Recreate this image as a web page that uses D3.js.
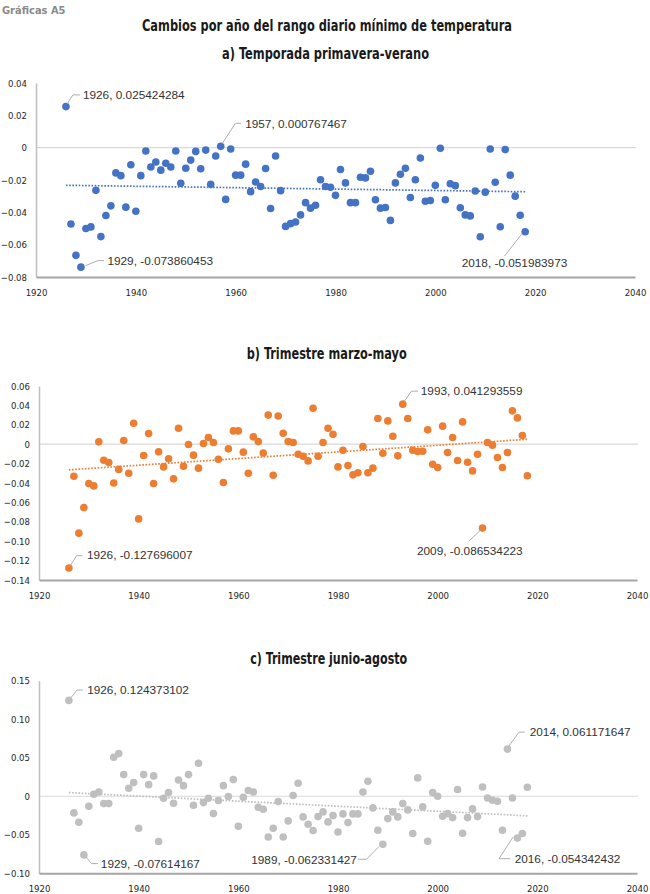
<!DOCTYPE html>
<html><head><meta charset="utf-8">
<script src="https://cdn.jsdelivr.net/npm/d3@7/dist/d3.min.js"></script>
<style>
html,body{margin:0;padding:0;background:#fff;}
svg{display:block;}
.tick text{font-family:"Liberation Sans Narrow","DejaVu Sans Condensed",sans-serif;font-size:9.5px;fill:#262626;}
.ann{font-family:"Liberation Sans","Open Sans",sans-serif;font-size:11.8px;fill:#333;}
.ttl{font-family:"Liberation Sans Narrow","DejaVu Sans Condensed",sans-serif;font-weight:bold;fill:#1a1a1a;}
</style></head>
<body>
<svg id="c" width="650" height="894"></svg>
<script>
// ---------- DATA ----------
const years = d3.range(1926, 2019);
const xTicks = [1920, 1940, 1960, 1980, 2000, 2020, 2040];

const valuesA = [0.0254,-0.0472,-0.0666,-0.0739,-0.050,-0.049,-0.0264,-0.055,-0.042,-0.036,
-0.0156,-0.0173,-0.0368,-0.0106,-0.0393,-0.0173,-0.0021,-0.012,-0.0089,-0.0139,
-0.0096,-0.012,-0.0021,-0.022,-0.0127,-0.0077,-0.0023,-0.013,-0.0015,-0.0227,
-0.0052,0.0008,-0.032,-0.0008,-0.017,-0.017,-0.0102,-0.0272,-0.0212,-0.024,
-0.0129,-0.0376,-0.0052,-0.0266,-0.0487,-0.047,-0.046,-0.0416,-0.034,-0.0374,
-0.0356,-0.0198,-0.024,-0.0245,-0.0295,-0.0135,-0.0218,-0.034,-0.034,-0.0183,
-0.0187,-0.0146,-0.0322,-0.0374,-0.037,-0.045,-0.0218,-0.0164,-0.0127,-0.0308,
-0.0198,-0.0064,-0.0331,-0.0327,-0.0233,-0.0004,-0.0322,-0.0223,-0.0235,-0.0372,
-0.0416,-0.0422,-0.0268,-0.0551,-0.0275,-0.0008,-0.0214,-0.0489,-0.0012,-0.017,
-0.030,-0.0418,-0.0520];

const valuesB = [-0.1277,-0.033,-0.0917,-0.0653,-0.0405,-0.043,0.0024,-0.0165,-0.0189,-0.040,
-0.026,0.0038,-0.030,0.0216,-0.077,-0.0117,0.011,-0.0405,-0.0079,-0.0234,
-0.0151,-0.0357,0.0165,-0.0227,-0.0003,-0.0113,-0.0247,0.0007,0.0069,0.0017,
-0.0155,-0.0395,-0.0048,0.0137,0.0137,-0.0082,-0.030,0.0076,0.0027,-0.009,
0.030,-0.032,0.029,0.0113,0.0027,0.0017,-0.0103,-0.0124,-0.0172,0.037,
-0.0124,0.0017,0.0165,0.0103,-0.0234,-0.0062,-0.022,-0.0316,-0.0295,-0.0024,
-0.0295,-0.0247,0.0265,-0.0093,0.024,0.0082,-0.012,0.0413,0.0265,-0.0062,
-0.0076,-0.0072,0.0148,-0.0206,-0.024,0.0186,-0.0086,0.0069,-0.0168,0.023,
-0.0186,-0.0275,-0.0103,-0.0865,0.0017,-0.001,-0.0137,-0.024,-0.0086,0.0344,
0.0271,0.0089,-0.0326];

const valuesC = [0.1244,-0.0216,-0.0337,-0.0761,-0.013,0.0026,0.0056,-0.0095,-0.0095,0.0506,
0.0554,0.0281,0.0104,0.0177,-0.0415,0.0281,0.0151,0.0264,-0.0588,-0.0026,
0.0048,-0.0091,0.0212,0.0138,0.0281,-0.0117,0.0428,-0.0082,-0.0026,-0.0225,
-0.0056,0.0138,-0.0004,0.0216,-0.0389,-0.0013,0.0074,0.0056,-0.0143,-0.0169,
-0.0528,-0.0415,-0.0069,-0.0528,-0.032,0.0009,0.0169,-0.0268,-0.0363,-0.0445,
-0.0264,-0.0203,-0.0333,-0.0251,-0.0463,-0.0229,-0.0342,-0.0229,-0.0229,0.0056,
0.0195,-0.0151,-0.0441,-0.0623,-0.029,-0.0203,-0.0268,-0.0095,-0.0177,-0.0484,
0.0238,-0.0138,-0.0584,0.0048,0.0,-0.026,-0.0225,-0.0277,0.0087,-0.048,
-0.0277,-0.0164,-0.0264,0.0121,-0.0022,-0.0052,-0.0065,-0.0441,0.0612,-0.0022,
-0.0543,-0.0484,0.0117];

const ticksA = [-0.08,-0.06,-0.04,-0.02,0,0.02,0.04];
const ticksB = [-0.14,-0.12,-0.10,-0.08,-0.06,-0.04,-0.02,0,0.02,0.04,0.06];
const ticksC = [-0.10,-0.05,0,0.05,0.10,0.15];

const annA = [
  {year:1926, text:"1926, 0.025424284", pts:[[1,-2.4],[7,-11.7],[14.3,-11.7]], t:[17,-11.7], anchor:"start"},
  {year:1957, text:"1957, 0.000767467", pts:[[1.4,-2.6],[14.7,-23],[20.4,-23]], t:[24.5,-23], anchor:"start"},
  {year:1929, text:"1929, -0.073860453", pts:[[4.5,-1.5],[17,-6.5],[23,-6.5]], t:[26.5,-6.5], anchor:"start"},
  {year:2018, text:"2018, -0.051983973", pts:[[-3.5,2.3],[-20.7,24.3]], t:[-10.7,31], anchor:"middle"}
];
const annB = [
  {year:1926, text:"1926, -0.127696007", pts:[[1,-1.7],[7.7,-12.4],[13.7,-12.4]], t:[18,-13.5], anchor:"start"},
  {year:1993, text:"1993, 0.041293559", pts:[[1,-2],[8.7,-13],[15.3,-13]], t:[18,-13], anchor:"start"},
  {year:2009, text:"2009, -0.086534223", pts:[[-1.4,1.6],[-13.7,13]], t:[-12.7,22.3], anchor:"middle"}
];
const annC = [
  {year:1926, text:"1926, 0.124373102", pts:[[2.3,-3],[8,-10.4],[14,-10.4]], t:[18.3,-10.4], anchor:"start"},
  {year:1929, text:"1929, -0.07614167", pts:[[2,2],[7.7,8.7],[14,8.7]], t:[17,8.7], anchor:"start"},
  {year:1989, text:"1989, -0.062331427", pts:[[-4,2.4],[-16.3,15],[-24.7,15]], t:[-26,15], anchor:"end"},
  {year:2014, text:"2014, 0.061171647", pts:[[1.3,-2.7],[11.6,-17],[17.3,-17]], t:[22.3,-17.5], anchor:"start"},
  {year:2016, text:"2016, -0.054342432", pts:[[-4.4,-1],[-18.4,20.6],[-7,20.6]], t:[-2.7,20.6], anchor:"start"}
];

// ---------- DRAW ----------
const svg = d3.select("#c");

svg.append("text").attr("x",2).attr("y",14)
  .style("font-family",'"Liberation Sans Narrow","DejaVu Sans Condensed",sans-serif')
  .style("font-weight","bold").style("font-size","11px").style("fill","#8a8a8a")
  .text("Gráficas A5");

svg.append("text").attr("class","ttl").attr("x",327).attr("y",31)
  .attr("text-anchor","middle").style("font-size","16.5px")
  .attr("textLength",370).attr("lengthAdjust","spacingAndGlyphs")
  .text("Cambios por año del rango diario mínimo de temperatura");

function fmt(v){ return v===0 ? "0" : d3.format(".2f")(v); }

function chart(cfg){
  const g = svg.append("g");
  const x = d3.scaleLinear().domain([1920,2040]).range(cfg.xr);
  const y = d3.scaleLinear().domain(cfg.yd).range(cfg.yr);

  // title
  g.append("text").attr("class","ttl").attr("x",cfg.tx).attr("y",cfg.ty)
    .attr("text-anchor","middle").style("font-size","15px")
    .attr("textLength",cfg.tw).attr("lengthAdjust","spacingAndGlyphs")
    .text(cfg.title);

  // zero gridline
  g.append("line").attr("x1",x(1920)).attr("x2",x(2040)+1)
    .attr("y1",y(0)).attr("y2",y(0)).attr("stroke","#d9d9d9").attr("stroke-width",1.2);

  // y axis
  const ya = g.append("g").attr("transform",`translate(${x(1920)},0)`)
    .call(d3.axisLeft(y).tickValues(cfg.yticks).tickFormat(fmt).tickSize(0).tickPadding(9));
  ya.select(".domain").attr("stroke","#bfbfbf").attr("stroke-width",1.5);

  // x axis
  const xa = g.append("g").attr("transform",`translate(0,${y(cfg.yd[0])})`)
    .call(d3.axisBottom(x).tickValues(xTicks).tickFormat(d3.format("d")).tickSize(0).tickPadding(12));
  xa.select(".domain").attr("stroke","#a6a6a6").attr("stroke-width",2);

  // trendline (least squares of the series)
  const n = years.length;
  const mx = d3.mean(years), my = d3.mean(cfg.values);
  let sxy=0, sxx=0;
  years.forEach((yr,i)=>{ sxy += (yr-mx)*(cfg.values[i]-my); sxx += (yr-mx)*(yr-mx); });
  const b = sxy/sxx, a = my - b*mx;
  const y0 = years[0], y1 = years[n-1];
  g.append("line").attr("x1",x(y0)).attr("x2",x(y1))
    .attr("y1",y(a+b*y0)).attr("y2",y(a+b*y1))
    .attr("stroke",cfg.trend).attr("stroke-width",1.7).attr("stroke-dasharray","1.6,1.6");

  // points
  g.selectAll("circle.p").data(years).join("circle").attr("class","p")
    .attr("cx",d=>x(d)).attr("cy",(d,i)=>y(cfg.values[i]))
    .attr("r",3.8).attr("fill",cfg.color);

  // annotations
  cfg.ann.forEach(an=>{
    const i = years.indexOf(an.year);
    const px = x(an.year), py = y(cfg.values[i]);
    g.append("path")
      .attr("d", d3.line()(an.pts.map(p=>[px+p[0],py+p[1]])))
      .attr("fill","none").attr("stroke","#a6a6a6").attr("stroke-width",0.9);
    g.append("text").attr("class","ann")
      .attr("x",px+an.t[0]).attr("y",py+an.t[1]).attr("dy","0.36em")
      .attr("text-anchor",an.anchor).text(an.text);
  });
}

chart({title:"a) Temporada primavera-verano", tx:325.5, ty:59, tw:207,
  xr:[36,635], yd:[-0.08,0.04], yr:[277,83], yticks:ticksA,
  values:valuesA, color:"#4472c4", trend:"#4472c4", ann:annA});
chart({title:"b) Trimestre marzo-mayo", tx:326.7, ty:359, tw:160,
  xr:[39,637], yd:[-0.14,0.06], yr:[580,386], yticks:ticksB,
  values:valuesB, color:"#ed7d31", trend:"#ed7d31", ann:annB});
chart({title:"c) Trimestre junio-agosto", tx:328.7, ty:664, tw:157,
  xr:[39,637], yd:[-0.10,0.15], yr:[873.3,680.7], yticks:ticksC,
  values:valuesC, color:"#bfbfbf", trend:"#bfbfbf", ann:annC});
</script>
</body></html>
